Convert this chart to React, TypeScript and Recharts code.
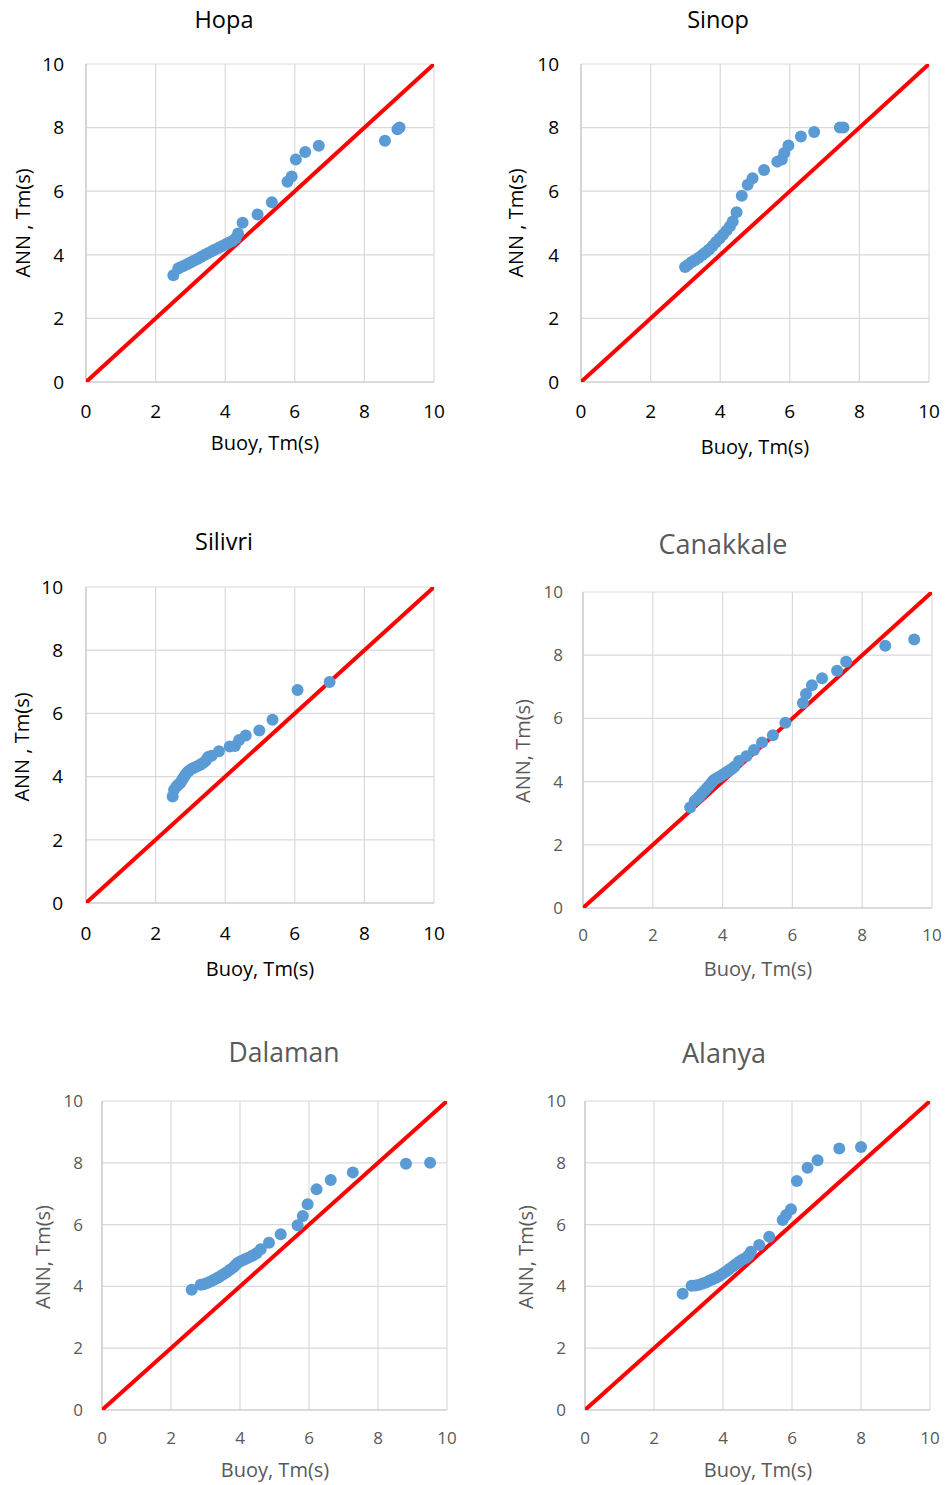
import { CartesianGrid, Scatter, ScatterChart, XAxis, YAxis } from 'recharts';

// Buoy-measured vs ANN-predicted mean wave period, per station
const hopaBuoy = [2.51, 2.65, 2.7, 2.8, 2.9, 3.0, 3.1, 3.2, 3.3, 3.4, 3.5, 3.6, 3.7, 3.8, 3.9, 4.0, 4.1, 4.2, 4.3, 4.37, 4.5, 4.93, 5.34, 5.79, 5.91, 6.03, 6.3, 6.69, 8.59, 8.95, 9.01];
const hopaAnn = [3.36, 3.57, 3.6, 3.65, 3.7, 3.76, 3.81, 3.87, 3.93, 3.99, 4.05, 4.1, 4.16, 4.21, 4.27, 4.32, 4.38, 4.43, 4.52, 4.67, 5.01, 5.27, 5.65, 6.3, 6.46, 7.0, 7.23, 7.43, 7.59, 7.95, 8.0];

const sinopBuoy = [2.99, 3.08, 3.18, 3.28, 3.38, 3.48, 3.58, 3.68, 3.78, 3.88, 3.98, 4.08, 4.18, 4.28, 4.36, 4.47, 4.62, 4.79, 4.93, 5.26, 5.64, 5.77, 5.84, 5.96, 6.32, 6.7, 7.44, 7.54];
const sinopAnn = [3.62, 3.69, 3.77, 3.84, 3.91, 3.99, 4.07, 4.17, 4.28, 4.4, 4.51, 4.63, 4.76, 4.9, 5.05, 5.34, 5.86, 6.2, 6.41, 6.67, 6.93, 7.0, 7.2, 7.44, 7.72, 7.86, 8.0, 8.0];

const silivriBuoy = [2.49, 2.53, 2.6, 2.65, 2.7, 2.75, 2.79, 2.84, 2.89, 2.95, 3.03, 3.1, 3.18, 3.27, 3.33, 3.39, 3.45, 3.51, 3.61, 3.82, 4.13, 4.28, 4.4, 4.59, 4.98, 5.36, 6.08, 7.0];
const silivriAnn = [3.37, 3.58, 3.69, 3.74, 3.79, 3.87, 3.95, 4.03, 4.11, 4.18, 4.24, 4.28, 4.32, 4.37, 4.41, 4.45, 4.52, 4.62, 4.66, 4.8, 4.95, 4.97, 5.16, 5.3, 5.46, 5.8, 6.74, 6.99];

const canakkaleBuoy = [3.07, 3.2, 3.27, 3.34, 3.41, 3.48, 3.55, 3.63, 3.69, 3.74, 3.82, 3.91, 3.98, 4.06, 4.13, 4.2, 4.27, 4.34, 4.47, 4.68, 4.9, 5.13, 5.44, 5.8, 6.3, 6.39, 6.56, 6.85, 7.28, 7.54, 8.66, 9.49];
const canakkaleAnn = [3.18, 3.39, 3.46, 3.54, 3.62, 3.71, 3.8, 3.89, 3.97, 4.04, 4.1, 4.15, 4.2, 4.26, 4.31, 4.36, 4.41, 4.47, 4.65, 4.8, 5.0, 5.24, 5.47, 5.86, 6.49, 6.77, 7.05, 7.27, 7.51, 7.79, 8.3, 8.5];

const dalamanBuoy = [2.6, 2.86, 2.95, 3.03, 3.13, 3.23, 3.33, 3.42, 3.52, 3.61, 3.71, 3.81, 3.88, 3.95, 4.05, 4.14, 4.24, 4.34, 4.41, 4.48, 4.6, 4.84, 5.18, 5.67, 5.82, 5.96, 6.22, 6.63, 7.27, 8.81, 9.51];
const dalamanAnn = [3.89, 4.05, 4.07, 4.1, 4.15, 4.21, 4.26, 4.32, 4.39, 4.46, 4.54, 4.62, 4.7, 4.77, 4.83, 4.88, 4.93, 4.98, 5.02, 5.07, 5.2, 5.41, 5.69, 5.98, 6.28, 6.66, 7.14, 7.44, 7.69, 7.97, 8.0];

const alanyaBuoy = [2.83, 3.09, 3.2, 3.31, 3.41, 3.51, 3.6, 3.7, 3.8, 3.89, 3.99, 4.09, 4.18, 4.28, 4.37, 4.47, 4.57, 4.67, 4.74, 4.81, 5.05, 5.34, 5.73, 5.83, 5.97, 6.14, 6.45, 6.74, 7.37, 8.0];
const alanyaAnn = [3.76, 4.02, 4.03, 4.05, 4.09, 4.13, 4.18, 4.23, 4.28, 4.34, 4.41, 4.48, 4.56, 4.64, 4.72, 4.8, 4.87, 4.93, 5.0, 5.12, 5.34, 5.61, 6.15, 6.31, 6.5, 7.41, 7.84, 8.08, 8.46, 8.51];

const axisTicks = [0, 2, 4, 6, 8, 10];
const perfectFit = [
  { buoy: 0, ann: 0 },
  { buoy: 10, ann: 10 },
];

const FONT = '"Open Sans", sans-serif';
const DARK = '#000000';
const GREY = '#595959';

type Station = {
  name: string;
  buoy: number[];
  ann: number[];
  plot: { x: number; y: number; w: number; h: number };
  tickColor: string;
  tickSize: number;
  xGap: number;
  yGap: number;
  title: { x: number; y: number; size: number };
  xTitle: { x: number; y: number };
  yTitle: { x: number; y: number; text: string };
};

const stations: Station[] = [
  {
    name: 'Hopa', buoy: hopaBuoy, ann: hopaAnn,
    plot: { x: 86, y: 64, w: 348, h: 318 },
    tickColor: DARK, tickSize: 19, xGap: 23, yGap: 22,
    title: { x: 224, y: 28, size: 23.5 },
    xTitle: { x: 265, y: 450 },
    yTitle: { x: 30, y: 223, text: 'ANN , Tm(s)' },
  },
  {
    name: 'Sinop', buoy: sinopBuoy, ann: sinopAnn,
    plot: { x: 581, y: 64, w: 348, h: 318 },
    tickColor: DARK, tickSize: 19, xGap: 23, yGap: 22,
    title: { x: 718, y: 28, size: 23.5 },
    xTitle: { x: 755, y: 454 },
    yTitle: { x: 523, y: 223, text: 'ANN , Tm(s)' },
  },
  {
    name: 'Silivri', buoy: silivriBuoy, ann: silivriAnn,
    plot: { x: 86, y: 587, w: 348, h: 316 },
    tickColor: DARK, tickSize: 19, xGap: 24, yGap: 23,
    title: { x: 224, y: 550, size: 23.5 },
    xTitle: { x: 260, y: 976 },
    yTitle: { x: 29, y: 747, text: 'ANN , Tm(s)' },
  },
  {
    name: 'Canakkale', buoy: canakkaleBuoy, ann: canakkaleAnn,
    plot: { x: 583, y: 592, w: 349, h: 316 },
    tickColor: GREY, tickSize: 17, xGap: 21, yGap: 20,
    title: { x: 723, y: 554, size: 27 },
    xTitle: { x: 758, y: 976 },
    yTitle: { x: 530, y: 751, text: 'ANN, Tm(s)' },
  },
  {
    name: 'Dalaman', buoy: dalamanBuoy, ann: dalamanAnn,
    plot: { x: 102, y: 1101, w: 345, h: 309 },
    tickColor: GREY, tickSize: 17, xGap: 22, yGap: 19,
    title: { x: 284, y: 1062, size: 26.5 },
    xTitle: { x: 275, y: 1477 },
    yTitle: { x: 50, y: 1257, text: 'ANN, Tm(s)' },
  },
  {
    name: 'Alanya', buoy: alanyaBuoy, ann: alanyaAnn,
    plot: { x: 585, y: 1101, w: 345, h: 309 },
    tickColor: GREY, tickSize: 17, xGap: 22, yGap: 19,
    title: { x: 724, y: 1063, size: 27 },
    xTitle: { x: 758, y: 1477 },
    yTitle: { x: 533, y: 1257, text: 'ANN, Tm(s)' },
  },
];

const Y_AXIS_W = 70;
const X_AXIS_H = 45;
const PAD_TOP = 12;
const PAD_RIGHT = 16;

function Dot(props: any) {
  return <circle cx={props.cx} cy={props.cy} r={6} fill="#5B9BD5" />;
}

function StationChart({ s }: { s: Station }) {
  const points = s.buoy.map((b, i) => ({ buoy: b, ann: s.ann[i] }));
  const { x, y, w, h } = s.plot;
  const tick = { fill: s.tickColor, fontSize: s.tickSize, fontFamily: FONT };

  return (
    <div style={{ position: 'absolute', left: x - Y_AXIS_W, top: y - PAD_TOP }}>
      <ScatterChart
        width={w + Y_AXIS_W + PAD_RIGHT}
        height={h + PAD_TOP + X_AXIS_H}
        margin={{ top: PAD_TOP, right: PAD_RIGHT, bottom: 0, left: 0 }}
      >
        <CartesianGrid stroke="#D9D9D9" strokeWidth={1.2} />
        <XAxis
          type="number"
          dataKey="buoy"
          domain={[0, 10]}
          ticks={axisTicks}
          interval={0}
          height={X_AXIS_H}
          tickLine={false}
          tickSize={0}
          tickMargin={s.xGap}
          axisLine={{ stroke: '#C9C9C9', strokeWidth: 1.2 }}
          tick={tick}
          allowDataOverflow
        />
        <YAxis
          type="number"
          dataKey="ann"
          domain={[0, 10]}
          ticks={axisTicks}
          interval={0}
          width={Y_AXIS_W}
          tickLine={false}
          tickSize={0}
          tickMargin={s.yGap}
          axisLine={{ stroke: '#C9C9C9', strokeWidth: 1.2 }}
          tick={tick}
          allowDataOverflow
        />
        <Scatter
          data={perfectFit}
          line={{ stroke: '#FF0000', strokeWidth: 4 }}
          shape={() => <g />}
          isAnimationActive={false}
        />
        <Scatter data={points} shape={Dot} isAnimationActive={false} />
      </ScatterChart>
    </div>
  );
}

function Labels() {
  return (
    <svg
      width={946}
      height={1485}
      style={{ position: 'absolute', left: 0, top: 0, pointerEvents: 'none' }}
    >
      {stations.map((s) => {
        const color = s.tickColor;
        return (
          <g key={s.name} fontFamily={FONT} fill={color}>
            <text x={s.title.x} y={s.title.y} fontSize={s.title.size} textAnchor="middle">
              {s.name}
            </text>
            <text x={s.xTitle.x} y={s.xTitle.y} fontSize={20} textAnchor="middle">
              Buoy, Tm(s)
            </text>
            <text
              x={s.yTitle.x}
              y={s.yTitle.y}
              fontSize={20}
              textAnchor="middle"
              transform={`rotate(-90 ${s.yTitle.x} ${s.yTitle.y})`}
            >
              {s.yTitle.text}
            </text>
          </g>
        );
      })}
    </svg>
  );
}

export default function App() {
  return (
    <div
      style={{
        position: 'absolute',
        left: 0,
        top: 0,
        width: 946,
        height: 1485,
        background: '#ffffff',
        overflow: 'hidden',
        fontFamily: FONT,
      }}
    >
      {stations.map((s) => (
        <StationChart key={s.name} s={s} />
      ))}
      <Labels />
    </div>
  );
}
